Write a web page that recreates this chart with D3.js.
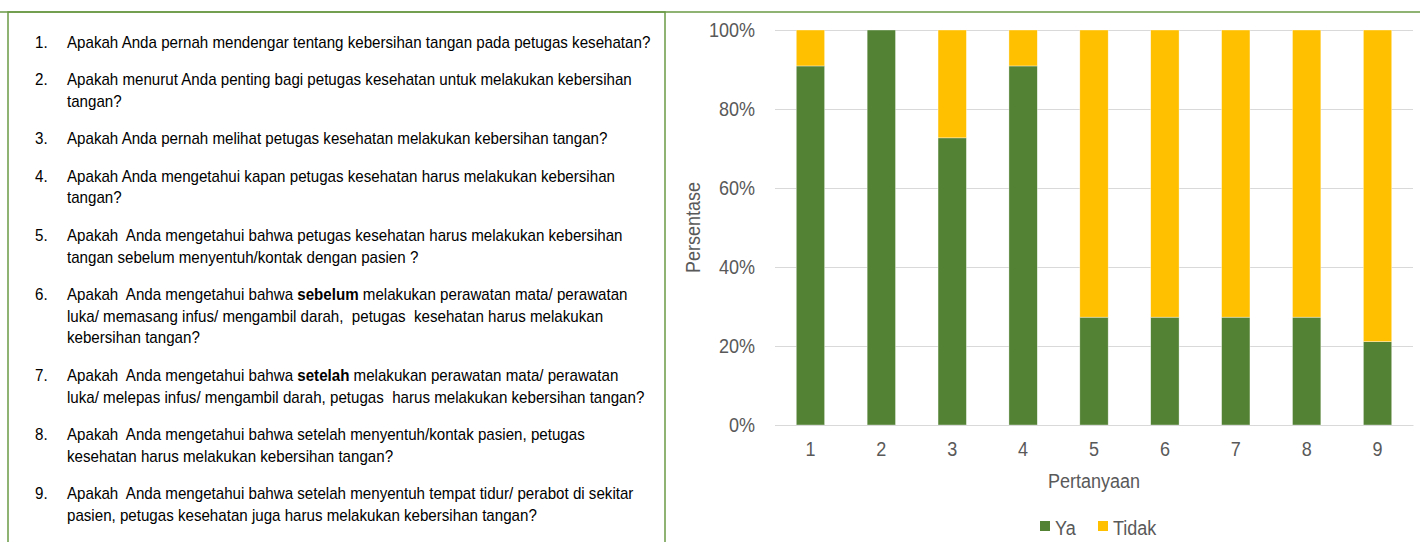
<!DOCTYPE html>
<html>
<head>
<meta charset="utf-8">
<script src="https://cdn.jsdelivr.net/npm/d3@7"></script>
<style>
  body { margin: 0; background: #fff; }
  .chart text { font-family: "Liberation Sans", Arial, sans-serif; }
</style>
</head>
<body>
<div class="chart"></div>
<script>
// data
var categories = ["1", "2", "3", "4", "5", "6", "7", "8", "9"];
var seriesNames = ["Ya", "Tidak"];
var yaValues = [90.9, 100, 72.7, 90.9, 27.3, 27.3, 27.3, 27.3, 21.1];
var tidakValues = [9.1, 0, 27.3, 9.1, 72.7, 72.7, 72.7, 72.7, 78.9];
var yTicks = [0, 20, 40, 60, 80, 100];

// question list, *word* = bold
var questions = [
  ["Apakah Anda pernah mendengar tentang kebersihan tangan pada petugas kesehatan?"],
  ["Apakah menurut Anda penting bagi petugas kesehatan untuk melakukan kebersihan", "tangan?"],
  ["Apakah Anda pernah melihat petugas kesehatan melakukan kebersihan tangan?"],
  ["Apakah Anda mengetahui kapan petugas kesehatan harus melakukan kebersihan", "tangan?"],
  ["Apakah  Anda mengetahui bahwa petugas kesehatan harus melakukan kebersihan", "tangan sebelum menyentuh/kontak dengan pasien ?"],
  ["Apakah  Anda mengetahui bahwa *sebelum* melakukan perawatan mata/ perawatan", "luka/ memasang infus/ mengambil darah,  petugas  kesehatan harus melakukan", "kebersihan tangan?"],
  ["Apakah  Anda mengetahui bahwa *setelah* melakukan perawatan mata/ perawatan", "luka/ melepas infus/ mengambil darah, petugas  harus melakukan kebersihan tangan?"],
  ["Apakah  Anda mengetahui bahwa setelah menyentuh/kontak pasien, petugas", "kesehatan harus melakukan kebersihan tangan?"],
  ["Apakah  Anda mengetahui bahwa setelah menyentuh tempat tidur/ perabot di sekitar", "pasien, petugas kesehatan juga harus melakukan kebersihan tangan?"]
];

var W = 1420, H = 542;
var colors = { "Ya": "#548235", "Tidak": "#ffc000" };
var textGray = "#595959";
var squeeze = 0.89; // no narrow font installed, so squeeze text horizontally

// squeeze each text in a selection to look like a narrow face
function narrow(sel, f) {
  sel.each(function() {
    var len = this.getComputedTextLength();
    d3.select(this)
      .attr("textLength", len * f)
      .attr("lengthAdjust", "spacingAndGlyphs");
  });
}

var svg = d3.select(".chart").append("svg")
    .attr("width", W)
    .attr("height", H);

// top green rule + box round the question list
svg.append("line")
    .attr("x1", 0).attr("x2", W)
    .attr("y1", 12).attr("y2", 12)
    .style("stroke", "#6a9a45")
    .style("stroke-width", 1.5);

svg.append("rect")
    .attr("x", 8).attr("y", 12)
    .attr("width", 657).attr("height", H)
    .style("fill", "none")
    .style("stroke", "#6a9a45")
    .style("stroke-width", 1.5);

// question text (group is squeezed, so x is divided back out)
var qg = svg.append("g")
    .attr("transform", "scale(" + squeeze + ",1)");
var lineH = 21.8, itemGap = 15.5, yPos = 48;
questions.forEach(function(lines, i) {
  qg.append("text")
      .attr("x", 35 / squeeze).attr("y", yPos)
      .style("font-size", "17px")
      .style("fill", "#000")
      .text((i + 1) + ".");
  lines.forEach(function(ln, j) {
    var t = qg.append("text")
        .attr("x", 67 / squeeze).attr("y", yPos + j * lineH)
        .attr("xml:space", "preserve")
        .style("font-size", "17px")
        .style("fill", "#000");
    ln.split("*").forEach(function(part, k) {
      if (part === "") return;
      t.append("tspan")
          .style("font-weight", k % 2 === 1 ? "bold" : "normal")
          .text(part);
    });
  });
  yPos += lines.length * lineH + itemGap;
});

// chart area
var plot = { left: 775, right: 1413, top: 30, bottom: 425 };

var xScale = d3.scaleBand()
    .domain(categories)
    .range([plot.left, plot.right])
    .paddingInner(0.6)
    .paddingOuter(0.3);

var yScale = d3.scaleLinear()
    .domain([0, 100])
    .range([plot.bottom, plot.top]);

// gridlines
svg.append("g")
    .attr("transform", "translate(" + plot.left + ",0)")
    .call(d3.axisLeft(yScale).tickValues(yTicks).tickSize(-(plot.right - plot.left)).tickFormat(""))
    .call(function(g) { g.select(".domain").remove(); })
    .selectAll("line")
    .style("stroke", "#d9d9d9")
    .style("stroke-width", 1.2);

// y tick labels
svg.append("g")
    .attr("transform", "translate(" + plot.left + ",0)")
    .call(d3.axisLeft(yScale).tickValues(yTicks).tickSize(0).tickPadding(20).tickFormat(function(d) { return d + "%"; }))
    .call(function(g) { g.select(".domain").remove(); })
    .selectAll("text")
    .style("font-size", "20px")
    .style("fill", textGray)
    .call(narrow, 0.9);

// stacked bars
var rows = categories.map(function(c, i) { return { cat: c, Ya: yaValues[i], Tidak: tidakValues[i] }; });
var stack = d3.stack().keys(seriesNames)(rows);

svg.append("g")
  .selectAll("g")
  .data(stack)
  .enter().append("g")
    .style("fill", function(s) { return colors[s.key]; })
  .selectAll("rect")
  .data(function(s) { return s; })
  .enter().append("rect")
    .attr("x", function(d) { return xScale(d.data.cat); })
    .attr("y", function(d) { return yScale(d[1]); })
    .attr("width", xScale.bandwidth())
    .attr("height", function(d) { return yScale(d[0]) - yScale(d[1]); })
    .style("stroke", "#fff")
    .style("stroke-width", 0.6)
    .style("stroke-opacity", 0.6);

// x axis line + labels
svg.append("g")
    .attr("transform", "translate(0," + plot.bottom + ")")
    .call(d3.axisBottom(xScale).tickSize(0).tickPadding(17))
    .call(function(g) { g.select(".domain").style("stroke", "#d9d9d9").style("stroke-width", 1.2); })
    .selectAll("text")
    .style("font-size", "20px")
    .style("fill", textGray)
    .call(narrow, 0.9);

// axis titles
svg.append("text")
    .attr("x", (plot.left + plot.right) / 2)
    .attr("y", 488)
    .attr("text-anchor", "middle")
    .style("font-size", "20px")
    .style("fill", textGray)
    .text("Pertanyaan")
    .call(narrow, 0.9);

svg.append("text")
    .attr("transform", "translate(700," + ((plot.top + plot.bottom) / 2) + ") rotate(-90)")
    .attr("text-anchor", "middle")
    .style("font-size", "20px")
    .style("fill", textGray)
    .text("Persentase")
    .call(narrow, 0.9);

// legend
var legendX = [1040, 1098];
var legend = svg.append("g")
  .selectAll("g")
  .data(seriesNames)
  .enter().append("g")
    .attr("transform", function(d, i) { return "translate(" + legendX[i] + ",521)"; });

legend.append("rect")
    .attr("width", 10).attr("height", 10)
    .style("fill", function(d) { return colors[d]; });

legend.append("text")
    .attr("x", 15).attr("y", 14)
    .style("font-size", "20px")
    .style("fill", textGray)
    .text(function(d) { return d; })
    .call(narrow, 0.9);
</script>
</body>
</html>
